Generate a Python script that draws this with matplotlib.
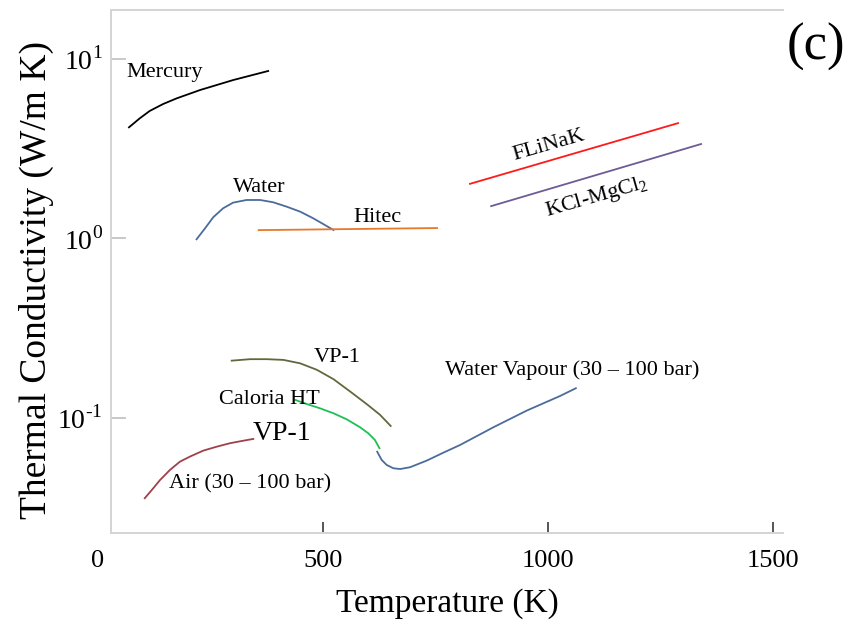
import numpy as np
import matplotlib.pyplot as plt
from matplotlib.ticker import FixedLocator, FixedFormatter

plt.rcParams['font.family'] = ['Liberation Serif', 'DejaVu Serif']
plt.rcParams['mathtext.fontset'] = 'custom'
plt.rcParams['mathtext.rm'] = 'Liberation Serif'
plt.rcParams['axes.unicode_minus'] = False

# Thermal conductivity (W/m K) against temperature (K)
mercury_T = [70, 94, 116, 146, 176, 228, 302, 379]
mercury_k = [4.15, 4.66, 5.12, 5.60, 6.02, 6.70, 7.62, 8.55]

water_T = [220, 239, 257, 279, 301, 331, 361, 390, 420, 450, 479, 501, 524]
water_k = [0.987, 1.137, 1.309, 1.469, 1.579, 1.634, 1.634, 1.587, 1.500,
           1.407, 1.292, 1.201, 1.112]

hitec_T = [358, 754]
hitec_k = [1.11, 1.14]

flinak_T = [827, 1289]
flinak_k = [2.01, 4.38]

kcl_T = [874, 1340]
kcl_k = [1.51, 3.35]

vp1_T = [298, 339, 376, 413, 450, 487, 524, 561, 598, 627, 651]
vp1_k = [0.208, 0.212, 0.212, 0.210, 0.201, 0.185, 0.164, 0.140, 0.119,
         0.104, 0.090]

caloria_T = [439, 464, 494, 524, 553, 583, 601, 616, 626]
caloria_k = [0.1257, 0.1194, 0.1129, 0.1059, 0.0981, 0.0885, 0.0820,
             0.0752, 0.0676]

vapour_T = [621, 631, 642, 657, 672, 694, 731, 768, 805, 879, 953, 1027, 1062]
vapour_k = [0.0647, 0.0582, 0.0546, 0.0523, 0.0518, 0.0530, 0.0577, 0.0639,
            0.0705, 0.0885, 0.1096, 0.1322, 0.146]

air_T = [105, 124, 139, 161, 183, 205, 235, 265, 294, 324, 346]
air_k = [0.0356, 0.0405, 0.0450, 0.0512, 0.0569, 0.0607, 0.0656, 0.0690,
         0.0721, 0.0745, 0.0762]

x_ticks = [500, 1000, 1500]
y_ticks = [0.1, 1, 10]
y_ticklabels = [r'10$^{\text{-1}}$', r'10$^{\text{0}}$', r'10$^{\text{1}}$']

fig = plt.figure(figsize=(8.49, 6.28), dpi=100)
ax = fig.add_axes([0.1307, 0.1513, 0.7916, 0.8328])

lw = 1.3
ax.plot(mercury_T, mercury_k, color='black', lw=lw)
ax.plot(water_T, water_k, color='#4a6c9b', lw=lw)
ax.plot(hitec_T, hitec_k, color='#e8782a', lw=lw)
ax.plot(flinak_T, flinak_k, color='#ff1a1a', lw=lw)
ax.plot(kcl_T, kcl_k, color='#6e5a96', lw=lw)
ax.plot(vp1_T, vp1_k, color='#5f6a3c', lw=lw)
ax.plot(caloria_T, caloria_k, color='#1fbf55', lw=lw)
ax.plot(vapour_T, vapour_k, color='#4a6c9b', lw=lw)
ax.plot(air_T, air_k, color='#a0404a', lw=lw)

ax.set_yscale('log')
ax.set_xlim(30, 1522)
ax.set_ylim(0.0228, 18.7)

# curve labels
fs = 16
ax.text(150, 8.34, 'Mercury', fontsize=fs, ha='center', va='center')
ax.text(359, 1.91, 'Water', fontsize=fs, ha='center', va='center')
ax.text(621, 1.30, 'Hitec', fontsize=fs, ha='center', va='center')
ax.text(1003, 3.27, 'FLiNaK', fontsize=fs, ha='center', va='center', rotation=16)
ax.text(1109, 1.68, r'KCl-MgCl$_{\mathrm{2}}$', fontsize=fs, ha='center', va='center', rotation=16)
ax.text(532, 0.2155, 'VP-1', fontsize=fs, ha='center', va='center')
ax.text(381, 0.1257, 'Caloria HT', fontsize=fs, ha='center', va='center')
ax.text(410, 0.0822, 'VP-1', fontsize=20, ha='center', va='center')
ax.text(338, 0.0428, 'Air (30 \u2013 100 bar)', fontsize=fs, ha='center', va='center')
ax.text(1054, 0.1846, 'Water Vapour (30 \u2013 100 bar)', fontsize=fs, ha='center', va='center')

fig.text(0.961, 0.925, '(c)', fontsize=38, ha='center', va='center')

# axes styling
for side in ['left', 'bottom', 'top']:
    ax.spines[side].set_color('#d4d4d4')
    ax.spines[side].set_linewidth(1.4)
ax.spines['right'].set_visible(False)

ax.xaxis.set_major_locator(FixedLocator(x_ticks))
ax.yaxis.set_major_locator(FixedLocator(y_ticks))
ax.yaxis.set_major_formatter(FixedFormatter(y_ticklabels))
ax.yaxis.set_minor_locator(FixedLocator([]))
ax.tick_params(axis='x', direction='in', length=8, width=1.4, color='#555555',
               labelsize=19, pad=12)
ax.tick_params(axis='y', direction='in', length=11, width=1.4, color='#c8c8c8',
               labelsize=20, pad=6)
ax.annotate('0', xy=(0, 0), xycoords=ax.get_xaxis_transform(),
            xytext=(0, -12), textcoords='offset points',
            ha='center', va='top', fontsize=19, annotation_clip=False)

ax.set_xlabel('Temperature (K)', fontsize=24)
ax.set_ylabel('Thermal Conductivity (W/m K)', fontsize=27)
ax.xaxis.set_label_coords(0.5, -0.105)
ax.yaxis.set_label_coords(-0.085, 0.484)

fig.savefig('out.png', dpi=100)
